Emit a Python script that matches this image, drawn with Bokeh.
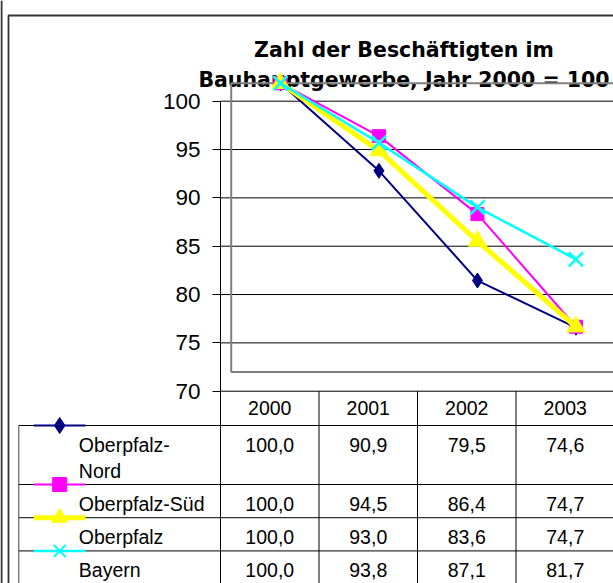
from bokeh.plotting import figure
from bokeh.models import Range1d, FixedTicker
from bokeh.core.properties import value
from bokeh.embed import file_html
from bokeh.resources import INLINE

# ---------------- data ----------------
years = ["2000", "2001", "2002", "2003"]
series_names = ["Oberpfalz-Nord", "Oberpfalz-Süd", "Oberpfalz", "Bayern"]
nord = [100.0, 90.9, 79.5, 74.6]
sued = [100.0, 94.5, 86.4, 74.7]
oberpfalz = [100.0, 93.0, 83.6, 74.7]
bayern = [100.0, 93.8, 87.1, 81.7]
y_ticks = [70, 75, 80, 85, 90, 95, 100]
title_lines = ["Zahl der Beschäftigten im", "Bauhauptgewerbe, Jahr 2000 = 100"]
wrapped_names = {"Oberpfalz-Nord": ["Oberpfalz-", "Nord"]}

series_values = [nord, sued, oberpfalz, bayern]

# ---------------- styles ----------------
colors = ["#000080", "#FF00FF", "#FFFF00", "#00FFFF"]
line_widths = [2, 2, 5, 2.5]
markers = ["diamond", "square", "triangle", "x"]
marker_sizes = [15, 13, 18, 20]
legend_marker_sizes = [16, 14, 16, 17]
FONT = value("Liberation Sans")
TABLE_FS = 19.5
TITLE_FS = 20.5

# ---------------- layout (page pixels) ----------------
W, H = 613, 583
X0, Y0 = 0, 0
X1, Y1 = X0 + W, Y0 + H
AXIS_X = 220.0
COL_W = 98.5
TICK_TOP_PX = 100.7
AX_PPU = 9.667
PLOT_X0 = 230.7
PLOT_TOP_PX = 82.7
PLOT_BOTTOM_PX = 371.5
HEADER_H = 34.3
ROW_H = 33.2
EXTRA_LINE_H = 25.8
TABLE_LEFT = 18.3
TEXT_DROP = 26.5
BASE_FIX = 0.36   # rendered baseline sits this many font-sizes below the anchor


def ax_px(v):
    return TICK_TOP_PX + (y_ticks[-1] - v) * AX_PPU


def base(y, fs):
    return y - BASE_FIX * fs


y_top = y_ticks[-1] + (TICK_TOP_PX - Y0) / AX_PPU
y_bot = y_ticks[-1] - (Y1 - TICK_TOP_PX) / AX_PPU

plot_ppu = (PLOT_BOTTOM_PX - PLOT_TOP_PX) / (y_ticks[-1] - y_ticks[0])
plot_y_top = y_ticks[-1] + (PLOT_TOP_PX - Y0) / plot_ppu
plot_y_bot = y_ticks[-1] - (Y1 - PLOT_TOP_PX) / plot_ppu

p = figure(width=W, height=H,
           x_range=Range1d(X0, X1), y_range=Range1d(y_bot, y_top),
           x_axis_location=None, output_backend="svg", toolbar_location=None,
           min_border=0, min_border_left=0, min_border_right=0,
           min_border_top=0, min_border_bottom=0)
p.extra_y_ranges = {"px": Range1d(Y1, Y0), "plot": Range1d(plot_y_bot, plot_y_top)}
p.extra_x_ranges = {"plot": Range1d((X0 - PLOT_X0) / COL_W, (X1 - PLOT_X0) / COL_W)}
p.outline_line_color = None
p.background_fill_color = "white"
p.border_fill_color = "white"
p.grid.visible = False

ax = p.yaxis[0]
ax.fixed_location = AXIS_X
ax.ticker = FixedTicker(ticks=y_ticks, minor_ticks=[])
ax.axis_line_color = None
ax.major_tick_out = 8
ax.major_tick_in = 0
ax.minor_tick_out = 0
ax.minor_tick_in = 0
ax.major_tick_line_color = "black"
ax.major_label_standoff = 12
ax.major_label_text_font = "Liberation Sans"
ax.major_label_text_font_size = "22.5px"
ax.major_label_text_color = "black"

# title
p.text(x=[403.5, 403.5], y=[base(56.5, TITLE_FS), base(86.7, TITLE_FS)],
       text=title_lines, y_range_name="px",
       text_align="center", text_baseline="alphabetic",
       text_font=value("DejaVu Sans"), text_font_style="bold",
       text_font_size=f"{TITLE_FS}px", text_color="black")

# outer chart border (double line at left, single line at top)
p.multi_line(xs=[[1.0, 1.0], [8.0, 8.0, X1]], ys=[[Y1, 0.0], [Y1, 15.0, 15.0]],
             y_range_name="px", line_color="#333333", line_width=[2, 1.8])

# horizontal grid lines
gy = [ax_px(t) for t in y_ticks]
p.segment(x0=[AXIS_X] * len(gy), x1=[X1] * len(gy), y0=gy, y1=gy,
          y_range_name="px", line_color="black", line_width=1)

# plot-area border
p.quad(left=[0], right=[len(years)], bottom=[y_ticks[0]], top=[y_ticks[-1]],
       x_range_name="plot", y_range_name="plot",
       fill_color=None, line_color="#808080", line_width=2)

# data table: column separators
col_x = [AXIS_X + i * COL_W for i in range(len(years))]
col_top = [ax_px(y_ticks[-1])] + [ax_px(y_ticks[0])] * (len(years) - 1)
p.segment(x0=col_x, x1=col_x, y0=col_top, y1=[Y1] * len(col_x),
          y_range_name="px", line_color="black", line_width=1)

# header (years)
col_cx = [AXIS_X + (i + 0.5) * COL_W for i in range(len(years))]
p.text(x=col_cx, y=[base(ax_px(y_ticks[0]) + 23.6, TABLE_FS)] * len(years), text=years,
       y_range_name="px", text_align="center", text_baseline="alphabetic",
       text_font=FONT, text_font_size=f"{TABLE_FS}px", text_color="black")

# rows
row_tops = []
t = ax_px(y_ticks[0]) + HEADER_H
for name in series_names:
    row_tops.append(t)
    n_lines = len(wrapped_names.get(name, [name]))
    t += ROW_H + (n_lines - 1) * EXTRA_LINE_H

p.segment(x0=[TABLE_LEFT] * len(row_tops), x1=[X1] * len(row_tops),
          y0=row_tops, y1=row_tops, y_range_name="px",
          line_color="black", line_width=1)
p.segment(x0=[TABLE_LEFT], x1=[TABLE_LEFT], y0=[row_tops[0]], y1=[Y1],
          y_range_name="px", line_color="#404040", line_width=1)

name_x, name_y, name_t = [], [], []
val_x, val_y, val_t = [], [], []
for r, (name, vals) in enumerate(zip(series_names, series_values)):
    for j, ln in enumerate(wrapped_names.get(name, [name])):
        name_x.append(78.3)
        name_y.append(base(row_tops[r] + TEXT_DROP + j * EXTRA_LINE_H, TABLE_FS))
        name_t.append(ln)
    for i, v in enumerate(vals):
        val_x.append(col_cx[i])
        val_y.append(base(row_tops[r] + TEXT_DROP, TABLE_FS))
        val_t.append(f"{v:.1f}".replace(".", ","))

p.text(x=name_x, y=name_y, text=name_t, y_range_name="px",
       text_align="left", text_baseline="alphabetic",
       text_font=FONT, text_font_size=f"{TABLE_FS}px", text_color="black")
p.text(x=val_x, y=val_y, text=val_t, y_range_name="px",
       text_align="center", text_baseline="alphabetic",
       text_font=FONT, text_font_size=f"{TABLE_FS}px", text_color="black")

# legend keys (in table rows)
for r in range(len(series_names)):
    p.segment(x0=[33.3], x1=[85.0], y0=[row_tops[r]], y1=[row_tops[r]],
              y_range_name="px", line_color=colors[r], line_width=line_widths[r])
    p.scatter(x=[59.2], y=[row_tops[r]], y_range_name="px", marker=markers[r],
              size=legend_marker_sizes[r], fill_color=colors[r], line_color=colors[r],
              line_width=2 if markers[r] == "x" else 1)

# data series
xs = [i + 0.5 for i in range(len(years))]
for r, vals in enumerate(series_values):
    p.line(x=xs, y=vals, x_range_name="plot", y_range_name="plot",
           line_color=colors[r], line_width=line_widths[r])
    p.scatter(x=xs, y=vals, x_range_name="plot", y_range_name="plot",
              marker=markers[r], size=marker_sizes[r],
              fill_color=colors[r], line_color=colors[r],
              line_width=2.5 if markers[r] == "x" else 1)

open("out.html", "w").write(file_html(p, INLINE))
